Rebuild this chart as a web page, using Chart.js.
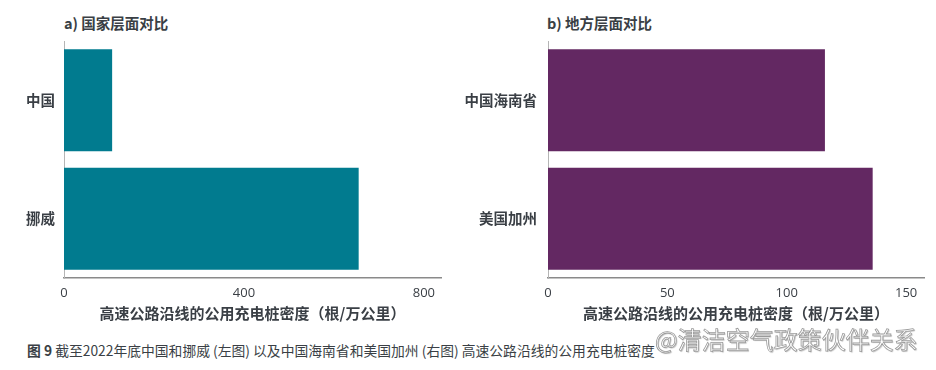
<!DOCTYPE html>
<html>
<head>
<meta charset="utf-8">
<script src="https://cdn.jsdelivr.net/npm/chart.js@4"></script>
<style>
  html, body { margin: 0; padding: 0; background: #fff; }
  body { width: 936px; height: 370px; position: relative; overflow: hidden;
         font-family: "Noto Sans CJK SC", "Noto Sans", sans-serif; }
  .title { position: absolute; top: 12px; font-size: 14.5px; font-weight: 700; color: #3a3f45; white-space: nowrap; }
  #wrapA { position: absolute; left: 0; top: 0; width: 460px; height: 330px; }
  #wrapB { position: absolute; left: 460px; top: 0; width: 476px; height: 330px; }
  #caption { position: absolute; left: 27px; top: 340px; font-size: 13.8px; color: #3a3f45; white-space: nowrap; }
  #caption b { font-weight: 700; }
  #wm { position: absolute; left: 655px; top: 321px; font-size: 24px; color: #fff; white-space: nowrap;
        -webkit-text-stroke: 0.8px #9a9a9a; text-shadow: 1px 1px 1px rgba(0,0,0,0.25); }
</style>
</head>
<body>
<div class="title" style="left:64px">a) 国家层面对比</div>
<div class="title" style="left:547px">b) 地方层面对比</div>
<div id="wrapA"><canvas id="chartA" width="460" height="330"></canvas></div>
<div id="wrapB"><canvas id="chartB" width="476" height="330"></canvas></div>
<div id="caption"><b>图 9</b> 截至2022年底中国和挪威 (左图) 以及中国海南省和美国加州 (右图) 高速公路沿线的公用充电桩密度</div>
<div id="wm">@清洁空气政策伙伴关系</div>
<script>
// Data
const nationalCategories = ["中国", "挪威"];
const nationalValues = [107, 655];
const regionalCategories = ["中国海南省", "美国加州"];
const regionalValues = [116, 136];
const axisTitle = "高速公路沿线的公用充电桩密度（根/万公里）";
const nationalTicks = [0, 400, 800];
const regionalTicks = [0, 50, 100, 150];

const CJK = '"Noto Sans CJK SC", "Noto Sans", sans-serif';
const NUM = '"Open Sans", "Noto Sans", sans-serif';

function makeChart(id, cats, vals, color, xMax, yWidth, yPad, padRight, tickList) {
  return new Chart(document.getElementById(id), {
    type: 'bar',
    data: {
      labels: cats,
      datasets: [{ data: vals, backgroundColor: color, borderWidth: 0,
                   barPercentage: 0.86, categoryPercentage: 1.0 }]
    },
    options: {
      indexAxis: 'y',
      responsive: false,
      animation: false,
      layout: { padding: { top: 41, right: padRight, left: 0, bottom: 0 } },
      plugins: { legend: { display: false }, tooltip: { enabled: false }, title: { display: false } },
      scales: {
        x: {
          min: 0, max: xMax,
          grid: { display: false, drawTicks: false },
          border: { display: true, color: '#8a8a8a', width: 1.5 },
          afterBuildTicks: (s) => { s.ticks = tickList.map(v => ({ value: v })); },
          ticks: {
            padding: 7, autoSkip: false,
            color: '#3a3f45', font: { family: NUM, size: 13, weight: 400 }
          },
          title: { display: true, text: axisTitle, color: '#3a3f45',
                   font: { family: CJK, size: 15, weight: 700 },
                   padding: { top: 0, bottom: 8 } },
          afterFit: (s) => { s.height = 52; }
        },
        y: {
          grid: { display: false, drawTicks: false },
          border: { display: true, color: '#b5b5b5', width: 1 },
          ticks: { padding: yPad, color: '#3a3f45', font: { family: CJK, size: 14.5, weight: 700 } },
          afterFit: (s) => { s.width = yWidth; }
        }
      }
    }
  });
}

makeChart('chartA', nationalCategories, nationalValues, '#017b8f', 838, 64, 9, 19, nationalTicks);
makeChart('chartB', regionalCategories, regionalValues, '#632862', 157.5, 88, 11, 12, regionalTicks);
</script>
</body>
</html>
